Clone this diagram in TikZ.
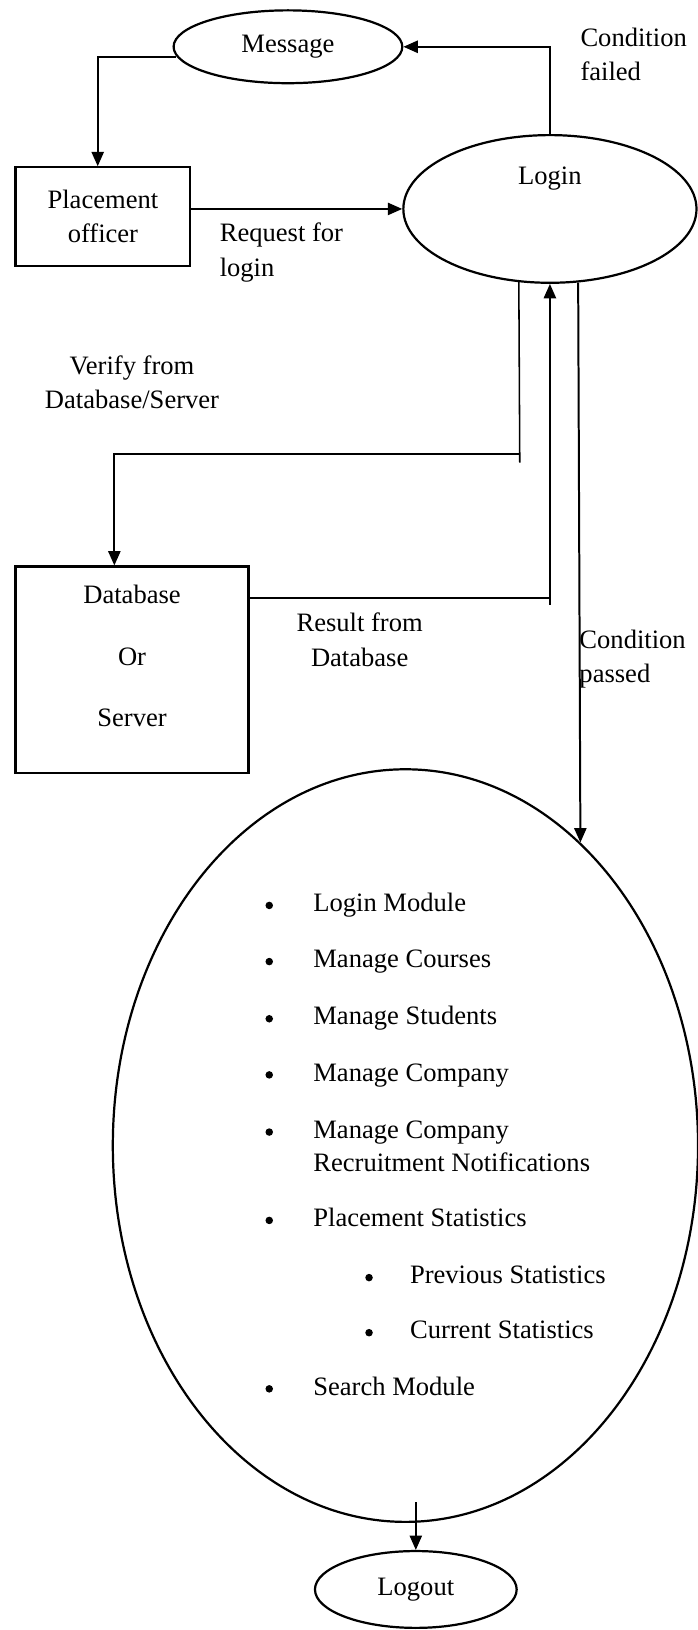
\documentclass[tikz,border=0pt]{standalone}
\usepackage{fontspec}
\setmainfont{Liberation Serif}
\usetikzlibrary{shapes.geometric,arrows.meta}
\begin{document}
\begin{tikzpicture}[x=0.4695pt,y=-0.4695pt,
 every node/.style={font=\fontsize{12pt}{15.5pt}\selectfont, inner sep=0pt},
 oval/.style={draw, ellipse, line width=1pt},
 box/.style={draw, rectangle, line width=1pt, align=center},
 txt/.style={align=center},
 ltxt/.style={align=left, anchor=west},
 item/.style={anchor=base west},
 bul/.style={circle, fill, minimum size=3.4pt},
 arr/.style={line width=0.9pt, -{Triangle[length=6.5pt,width=5.5pt]}},
 ln/.style={line width=0.7pt}]
\useasboundingbox (0,0) rectangle (671,1568);

% shapes
\node[oval, minimum width=103.3pt, minimum height=32.9pt] (msg) at (277,45) {Message};
\node[oval, minimum width=132.4pt, minimum height=66.7pt] (login) at (529,201) {};
\node (logintxt) at (529,172) {Login};
\node[box, minimum width=78.9pt, minimum height=44.6pt] (po) at (99,208.5) {Placement\\officer};
\node[box, minimum width=105.2pt, minimum height=93.4pt] (db) at (127,644.5) {};
\node[txt, font=\fontsize{12pt}{27.7pt}\selectfont] (dbtxt) at (127,631) {Database\\Or\\Server};
\node[oval, minimum width=264.3pt, minimum height=339.9pt] (big) at (390,1102) {};
\node[oval, minimum width=91.1pt, minimum height=34.7pt] (logout) at (400,1529) {Logout};

% labels
\node[ltxt] (cf) at (558,52.5) {Condition\\failed};
\node[ltxt] (rq) at (211,243) {Request for\\login};
\node[txt] (vf) at (127,368) {Verify from\\Database/Server};
\node[txt] (rf) at (346,615.5) {Result from\\Database};
\node[ltxt] (cp) at (557,634) {Condition\\passed};

% list
\node[bul] (b1) at (259,871) {};
\node[item] (i1) at (301,877) {Login Module};
\node[bul] (b2) at (259,925) {};
\node[item] (i2) at (301,931) {Manage Courses};
\node[bul] (b3) at (259,980) {};
\node[item] (i3) at (301,986) {Manage Students};
\node[bul] (b4) at (259,1034) {};
\node[item] (i4) at (301,1040) {Manage Company};
\node[bul] (b5) at (259,1089) {};
\node[item] (i5) at (301,1095) {Manage Company};
\node[item] (i5b) at (301,1127) {Recruitment Notifications};
\node[bul] (b6) at (259,1174) {};
\node[item] (i6) at (301,1180) {Placement Statistics};
\node[bul] (b7) at (355,1229) {};
\node[item] (i7) at (394,1235) {Previous Statistics};
\node[bul] (b8) at (355,1282) {};
\node[item] (i8) at (394,1288) {Current Statistics};
\node[bul] (b9) at (259,1336) {};
\node[item] (i9) at (301,1342) {Search Module};

% helper coordinates
\coordinate (v1) at (500,437);
\coordinate (vt) at (500,445);
\coordinate (v2) at (110,437);
\coordinate (r1) at (529,575);
\coordinate (rt) at (529,582);
\coordinate (e1) at (400,1445);

% connectors
\draw[arr] (msg.185.4) -| ([xshift=-2.35pt]po.north);
\draw[arr] (login.north) |- (msg.east);
\draw[arr] (po.east |- login.west) -- (login.west);
\draw[ln] (login.247.4) -- (vt);
\draw[arr] (v1) -| (db.north -| v2);
\draw[ln] (r1) -- (rt);
\draw[arr] (db.east |- r1) -| (login.south);
\draw[arr] (login.291.9) -- (big.60.2);
\draw[arr] (e1) -- (logout.north);
\end{tikzpicture}
\end{document}
